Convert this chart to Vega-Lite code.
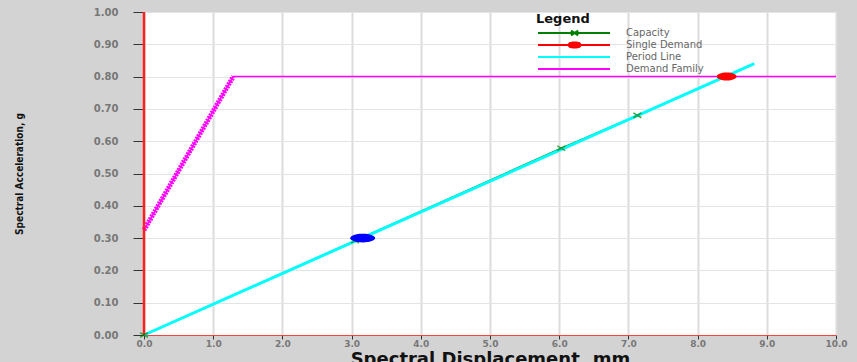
{
  "$schema": "https://vega.github.io/schema/vega-lite/v6.json",
  "width": 692,
  "height": 323,
  "autosize": {"type": "none"},
  "padding": {"left": 144, "top": 12, "right": 21, "bottom": 27},
  "background": "#d3d3d3",
  "config": {
    "font": "DejaVu Sans",
    "view": {"fill": "white", "stroke": "#c8c8c8"}
  },
  "datasets": {
    "curves": [
      {"series": "Period Line", "x": 0, "y": 0},
      {"series": "Period Line", "x": 8.82, "y": 0.84},
      {"series": "Capacity", "x": 0, "y": 0},
      {"series": "Capacity", "x": 3.05, "y": 0.292},
      {"series": "Capacity", "x": 6.03, "y": 0.578},
      {"series": "Capacity", "x": 7.13, "y": 0.68},
      {"series": "Demand Family", "x": 0, "y": 0.325},
      {"series": "Demand Family", "x": 1.29, "y": 0.8},
      {"series": "Demand Family", "x": 10, "y": 0.8},
      {"series": "Single Demand", "x": 0, "y": 0},
      {"series": "Single Demand", "x": 0, "y": 1},
      {"series": "Single Demand Point", "x": 8.42, "y": 0.8},
      {"series": "Performance Point", "x": 3.16, "y": 0.3}
    ],
    "legendKeys": [
      {"series": "Capacity"},
      {"series": "Single Demand"},
      {"series": "Period Line"},
      {"series": "Demand Family"}
    ]
  },
  "data": {"name": "curves"},
  "encoding": {
    "x": {
      "field": "x",
      "type": "quantitative",
      "scale": {"domain": [0, 10], "nice": false},
      "axis": {
        "values": [0, 1, 2, 3, 4, 5, 6, 7, 8, 9, 10],
        "format": ".1f",
        "grid": true,
        "gridColor": "#dcdcdc",
        "gridWidth": 2,
        "domainColor": "#ff4040",
        "domainWidth": 1,
        "tickColor": "#333333",
        "tickSize": 4,
        "labelColor": "#777777",
        "labelFontWeight": "bold",
        "labelFontSize": 9,
        "labelPadding": 0,
        "labelFlush": false,
        "title": "Spectral Displacement, mm",
        "titleFontSize": 18,
        "titleFontWeight": "bold",
        "titleColor": "#111111",
        "titleBaseline": "top",
        "titleY": 15
      }
    },
    "y": {
      "field": "y",
      "type": "quantitative",
      "scale": {"domain": [0, 1], "nice": false},
      "axis": {
        "values": [0, 0.1, 0.2, 0.3, 0.4, 0.5, 0.6, 0.7, 0.8, 0.9, 1.0],
        "format": ".2f",
        "grid": true,
        "gridColor": "#e4e4e4",
        "gridWidth": 1,
        "domain": false,
        "tickColor": "#333333",
        "tickSize": 11,
        "labelPadding": 15,
        "labelColor": "#777777",
        "labelFontWeight": "bold",
        "labelFontSize": 10,
        "labelFlush": false,
        "title": "Spectral Acceleration, g",
        "titleFont": "DejaVu Sans Condensed, Liberation Sans, sans-serif",
        "titleFontSize": 10,
        "titleFontWeight": "bold",
        "titleColor": "#111111",
        "titleX": -125,
        "titleY": 161.5,
        "titleAngle": -90,
        "titleAlign": "center",
        "titleBaseline": "middle"
      }
    }
  },
  "layer": [
    {
      "transform": [{"filter": "datum.series === 'Capacity'"}],
      "mark": {"type": "line", "color": "#008000", "strokeWidth": 1.5}
    },
    {
      "transform": [{"filter": "datum.series === 'Period Line'"}],
      "mark": {"type": "line", "color": "#00ffff", "strokeWidth": 3}
    },
    {
      "transform": [{"filter": "datum.series === 'Demand Family'"}],
      "mark": {"type": "line", "color": "#ff00ff", "strokeWidth": 1.5}
    },
    {
      "transform": [{"filter": "datum.series === 'Demand Family' && datum.x <= 1.3"}],
      "mark": {"type": "line", "color": "#ff00ff", "strokeWidth": 5, "strokeDash": [2, 1]}
    },
    {
      "transform": [{"filter": "datum.series === 'Single Demand'"}],
      "mark": {"type": "line", "color": "#ff2020", "strokeWidth": 2.5, "clip": false}
    },
    {
      "transform": [{"filter": "datum.series === 'Capacity'"}],
      "mark": {
        "type": "point",
        "shape": "M-1,-0.6L1,0.6M-1,0.6L1,-0.6",
        "size": 64,
        "color": "#008000",
        "strokeWidth": 1.5,
        "filled": false,
        "clip": false
      }
    },
    {
      "transform": [{"filter": "datum.series === 'Performance Point'"}],
      "mark": {
        "type": "point",
        "shape": "M-1,0A1,0.35 0 1,0 1,0A1,0.35 0 1,0 -1,0Z",
        "size": 625,
        "color": "#0000ff",
        "filled": true,
        "opacity": 1
      }
    },
    {
      "transform": [{"filter": "datum.series === 'Single Demand Point'"}],
      "mark": {
        "type": "point",
        "shape": "M-1,0A1,0.4 0 1,0 1,0A1,0.4 0 1,0 -1,0Z",
        "size": 400,
        "color": "#ff0000",
        "filled": true,
        "opacity": 1
      }
    },
    {
      "data": {"name": "legendKeys"},
      "mark": {"type": "point", "strokeWidth": 2, "opacity": 1},
      "encoding": {
        "fill": {
          "field": "series",
          "type": "nominal",
          "scale": {
            "domain": ["Capacity", "Single Demand", "Period Line", "Demand Family"],
            "range": ["#008000", "#ff0000", "#00ffff", "#ff00ff"]
          },
          "legend": {
            "title": "Legend",
            "orient": "none",
            "legendX": 392,
            "legendY": 1,
            "padding": 0,
            "gridAlign": "all",
            "titleFontSize": 13,
            "titleFontWeight": "bold",
            "titleColor": "#111111",
            "titlePadding": 2,
            "labelFontSize": 10,
            "labelColor": "#666666",
            "labelOffset": 80,
            "symbolSize": 36,
            "symbolStrokeWidth": 2,
            "rowPadding": -4
          }
        },
        "stroke": {
          "field": "series",
          "type": "nominal",
          "scale": {
            "domain": ["Capacity", "Single Demand", "Period Line", "Demand Family"],
            "range": ["#008000", "#ff0000", "#00ffff", "#ff00ff"]
          },
          "legend": {
            "title": "Legend",
            "orient": "none",
            "legendX": 392,
            "legendY": 1,
            "padding": 0,
            "gridAlign": "all",
            "titleFontSize": 13,
            "titleFontWeight": "bold",
            "titleColor": "#111111",
            "titlePadding": 2,
            "labelFontSize": 10,
            "labelColor": "#666666",
            "labelOffset": 80,
            "symbolSize": 36,
            "symbolStrokeWidth": 2,
            "rowPadding": -4
          }
        },
        "shape": {
          "field": "series",
          "type": "nominal",
          "scale": {
            "domain": ["Capacity", "Single Demand", "Period Line", "Demand Family"],
            "range": [
              "M-1,0L23,0M10,-0.8L12.4,0.8M10,0.8L12.4,-0.8",
              "M-1,0L23,0M9.1,0L9.6,-0.6L10.6,-0.85L11.8,-0.85L12.8,-0.6L13.3,0L12.8,0.6L11.8,0.85L10.6,0.85L9.6,0.6Z",
              "M-1,0L23,0",
              "M-1,0L23,0"
            ]
          },
          "legend": {
            "title": "Legend",
            "orient": "none",
            "legendX": 392,
            "legendY": 1,
            "padding": 0,
            "gridAlign": "all",
            "titleFontSize": 13,
            "titleFontWeight": "bold",
            "titleColor": "#111111",
            "titlePadding": 2,
            "labelFontSize": 10,
            "labelColor": "#666666",
            "labelOffset": 80,
            "symbolSize": 36,
            "symbolStrokeWidth": 2,
            "rowPadding": -4
          }
        }
      }
    }
  ]
}
